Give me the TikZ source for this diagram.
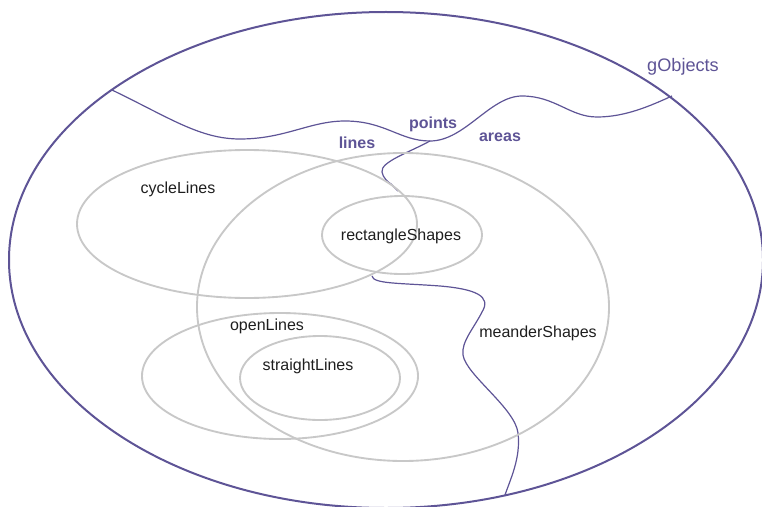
\documentclass[tikz,border=0pt]{standalone}
\usepackage{fontspec}
\setmainfont{Liberation Sans}
\definecolor{setpurple}{RGB}{94,84,150}
\definecolor{setgray}{RGB}{200,200,200}
\definecolor{labelink}{RGB}{30,30,30}
\begin{document}
\begin{tikzpicture}[x=0.75pt,y=-0.75pt,
  outer/.style={draw=setpurple,line width=1.5pt},
  border/.style={draw=setpurple,line width=0.9pt},
  subset/.style={draw=setgray,line width=1.4pt},
  setname/.style={text=labelink,font=\fontsize{12pt}{14pt}\selectfont,inner sep=0pt},
  regionname/.style={text=setpurple,font=\fontsize{12pt}{14pt}\selectfont\bfseries,inner sep=0pt}]
\useasboundingbox (0,0) rectangle (762,506);

% outer universe
\draw[outer] (386,260) ellipse [x radius=377, y radius=248];

% boundaries between the lines / points / areas regions
\draw[border] (112,90) .. controls (170,118) and (200,139) .. (240,139)
  .. controls (285,139) and (310,121) .. (345,121)
  .. controls (385,121) and (400,141) .. (430,141)
  .. controls (465,141) and (490,96) .. (522,96)
  .. controls (555,96) and (570,117) .. (597,117)
  .. controls (625,117) and (650,106) .. (672,96);
\draw[border] (430,141) .. controls (410,152) and (380,162) .. (382,172)
  .. controls (383,178) and (388,182) .. (391,184)
  .. controls (394,187) and (396,189) .. (398,191);
\draw[border] (372,276) .. controls (373,284) and (400,283) .. (440,286)
  .. controls (475,289) and (492,296) .. (482,312)
  .. controls (474,328) and (461,342) .. (463,355)
  .. controls (466,375) and (515,408) .. (518,433)
  .. controls (521,458) and (510,480) .. (505,495);

% subset ellipses
\draw[subset] (247,224) ellipse [x radius=170, y radius=74];
\draw[subset] (403,307) ellipse [x radius=206, y radius=154];
\draw[subset] (402,235) ellipse [x radius=80, y radius=39];
\draw[subset] (280,376) ellipse [x radius=138, y radius=63];
\draw[subset] (320,378) ellipse [x radius=80, y radius=42];

% labels
\node[text=setpurple,font=\fontsize{13.6pt}{16pt}\selectfont,inner sep=0pt] (gobjects) at (683,67) {gObjects};
\node[regionname] (points) at (433,124) {points};
\node[regionname] (lines) at (357,143) {lines};
\node[regionname] (areas) at (500,137) {areas};
\node[setname] (cycle) at (178,189) {cycleLines};
\node[setname] (rect) at (401,236) {rectangleShapes};
\node[setname] (open) at (267,326) {openLines};
\node[setname] (straight) at (308,366) {straightLines};
\node[setname] (meander) at (538,333) {meanderShapes};
\end{tikzpicture}
\end{document}
